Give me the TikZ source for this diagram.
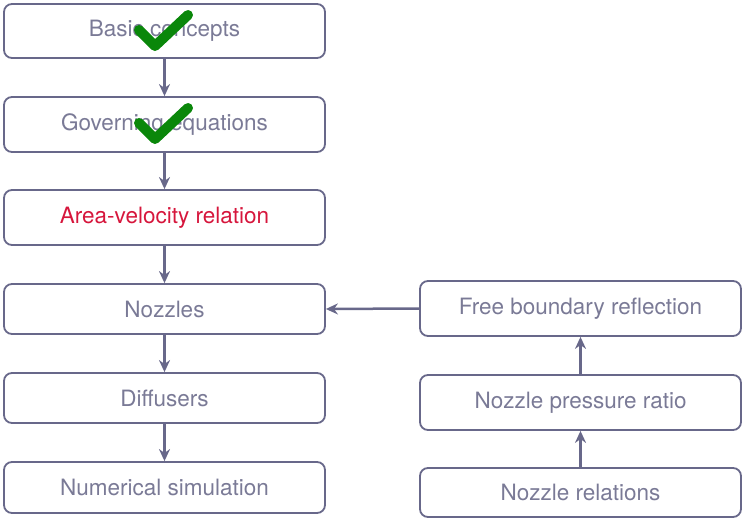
\documentclass[tikz,border=0pt]{standalone}
\usepackage{fontspec}
\setmainfont{TeX Gyre Heros}
\usetikzlibrary{arrows.meta}
\definecolor{boxline}{RGB}{104,104,138}
\definecolor{boxtext}{RGB}{122,122,150}
\definecolor{hotred}{RGB}{214,22,60}
\definecolor{tickgreen}{RGB}{10,135,10}
\tikzset{
	topic/.style={draw=boxline, line width=1.8pt, rounded corners=8pt, minimum width=321pt, text=boxtext, font=\fontsize{22.5}{26}\selectfont, inner sep=0pt},
	flow/.style={draw=boxline, line width=2.5pt, -{Stealth[length=12pt,width=11pt]}},
	tick/.style={draw=tickgreen, line width=10pt, line cap=round, line join=round}
}
\begin{document}
\begin{tikzpicture}[x=1pt, y=-1pt]
			%%%%% START %%%%%
			\useasboundingbox (0, 0) rectangle (745, 519);
			
			\node[topic, minimum height=54pt] (basic) at (164.5, 31) {Basic concepts};
			\node[topic, minimum height=55pt] (govern) at (164.5, 124.5) {Governing equations};
			\node[topic, minimum height=55pt, text=hotred] (areavel) at (164.5, 217.5) {Area-velocity relation};
			\node[topic, minimum height=50pt] (nozzles) at (164.5, 309) {Nozzles};
			\node[topic, minimum height=50pt] (diffusers) at (164.5, 398) {Diffusers};
			\node[topic, minimum height=51pt] (numsim) at (164.5, 487.5) {Numerical simulation};
			
			\node[topic, minimum height=55pt] (freebound) at (580.5, 308.5) {Free boundary reflection};
			\node[topic, minimum height=55pt] (npr) at (580.5, 402.5) {Nozzle pressure ratio};
			\node[topic, minimum height=49pt] (nozrel) at (580.5, 492.5) {Nozzle relations};
			
			\draw[flow] (basic) -- (govern);
			\draw[flow] (govern) -- (areavel);
			\draw[flow] (areavel) -- (nozzles);
			\draw[flow] (nozzles) -- (diffusers);
			\draw[flow] (diffusers) -- (numsim);
			
			\draw[flow] (nozrel) -- (npr);
			\draw[flow] (npr) -- (freebound);
			\draw[flow] (freebound.west) -- (nozzles.east);
			
			\draw[tick] (139, 30) -- (155, 46) -- (188, 15);
			\draw[tick] (139, 123) -- (155, 139) -- (188, 108);
			%%%%% END %%%%%
\end{tikzpicture}
\end{document}
